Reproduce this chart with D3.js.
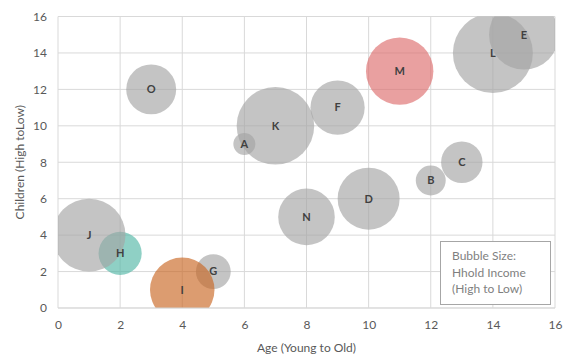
<!DOCTYPE html>
<html><head><meta charset="utf-8">
<script src="https://cdn.jsdelivr.net/npm/d3@7"></script>
<style>body{margin:0;background:#fff}svg{display:block}text{font-family:Lato,"Open Sans",sans-serif}</style>
</head><body><svg id="c" width="569" height="356"></svg>
<script>
const labels = ["A","B","C","D","E","F","G","H","I","J","K","L","M","N","O"];
const ages = [6,12,13,10,15,9,5,2,4,1,7,14,11,8,3];
const children = [9,7,8,6,15,11,2,3,1,4,10,14,13,5,12];
const incomes = [7.6,14,26.8,60,76,46,19,29,65,83,94,100,71,50,39];
const colors = ["#a5a5a5","#a5a5a5","#a5a5a5","#a5a5a5","#a5a5a5","#a5a5a5","#a5a5a5","#53b7a6","#c96723","#a5a5a5","#a5a5a5","#a5a5a5","#dd6d6d","#a5a5a5","#a5a5a5"];
const xTicks = [0,2,4,6,8,10,12,14,16];
const yTicks = [0,2,4,6,8,10,12,14,16];
const legendLines = ["Bubble Size:","Hhold Income","(High to Low)"];

const svg = d3.select("#c");
const m = {l:58, r:14, t:16.5, b:48};
const W = 569, H = 356;
const x = d3.scaleLinear().domain([0,16]).range([m.l, W-m.r]);
const y = d3.scaleLinear().domain([0,16]).range([H-m.b, m.t]);
const r = d3.scaleSqrt().domain([0,100]).range([0,40]);

// grid
const g = svg.append("g");
g.selectAll("line.v").data(xTicks).join("line").attr("x1",d=>x(d)).attr("x2",d=>x(d))
  .attr("y1",y(0)).attr("y2",y(16)).attr("stroke","#d9d9d9").attr("stroke-width",1);
g.selectAll("line.h").data(yTicks).join("line").attr("x1",x(0)).attr("x2",x(16))
  .attr("y1",d=>y(d)).attr("y2",d=>y(d)).attr("stroke","#d9d9d9").attr("stroke-width",1);

svg.append("clipPath").attr("id","clip").append("rect")
  .attr("x",x(0)).attr("y",y(16)).attr("width",x(16)-x(0)).attr("height",y(0)-y(16));

const data = labels.map((l,i)=>({l,a:ages[i],c:children[i],s:incomes[i],col:colors[i]}));
const bg = svg.append("g").attr("clip-path","url(#clip)");
bg.selectAll("circle").data(data).join("circle")
  .attr("cx",d=>x(d.a)).attr("cy",d=>y(d.c)).attr("r",d=>r(d.s))
  .attr("fill",d=>d.col).attr("fill-opacity",0.65);
svg.append("g").selectAll("text").data(data).join("text")
  .attr("x",d=>x(d.a)).attr("y",d=>y(d.c)).attr("dy","0.35em").attr("text-anchor","middle")
  .attr("font-size",11).attr("font-weight","bold").attr("fill","#404040").text(d=>d.l);

// axes
const xa = svg.append("g").attr("transform",`translate(0,${y(0)})`)
  .call(d3.axisBottom(x).tickValues(xTicks).tickSize(0).tickPadding(12));
const ya = svg.append("g").attr("transform",`translate(${x(0)},0)`)
  .call(d3.axisLeft(y).tickValues(yTicks).tickSize(0).tickPadding(11));
[xa,ya].forEach(a=>{a.select(".domain").remove();a.selectAll("text").attr("font-size",12).attr("fill","#595959").attr("font-family","Lato,'Open Sans',sans-serif");});
svg.append("line").attr("x1",x(0)).attr("x2",x(16)).attr("y1",y(0)).attr("y2",y(0)).attr("stroke","#d9d9d9");

svg.append("text").attr("x",(x(0)+x(16))/2).attr("y",352).attr("text-anchor","middle")
  .attr("font-size",12).attr("fill","#595959").text("Age (Young to Old)");
svg.append("text").attr("transform",`translate(24,${(y(0)+y(16))/2}) rotate(-90)`).attr("text-anchor","middle")
  .attr("font-size",12).attr("fill","#595959").text("Children (High toLow)");

// legend box
svg.append("rect").attr("x",440.5).attr("y",241.5).attr("width",110).attr("height",63)
  .attr("fill","#fff").attr("stroke","#a6a6a6");
svg.append("g").selectAll("text").data(legendLines).join("text")
  .attr("x",452).attr("y",(d,i)=>260+i*16.7).attr("font-size",12).attr("fill","#7f7f7f").text(d=>d);
</script></body></html>
